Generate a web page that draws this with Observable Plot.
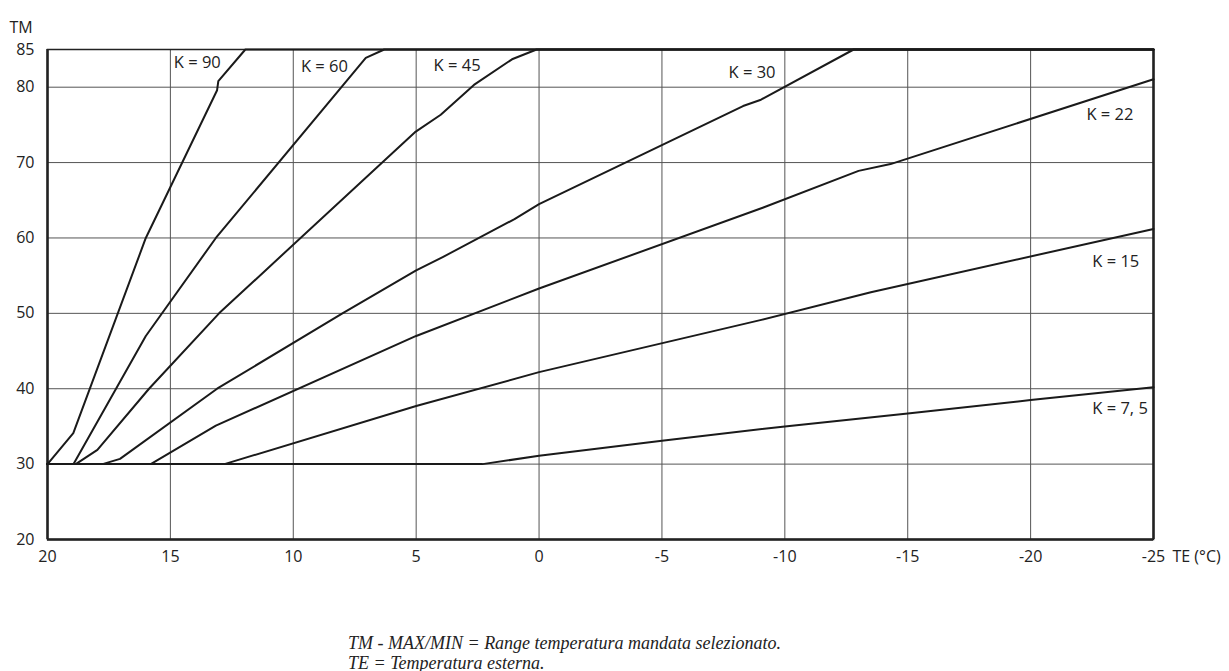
<!DOCTYPE html>
<html>
<head>
<meta charset="utf-8">
<script src="https://cdn.jsdelivr.net/npm/d3@7"></script>
<script src="https://cdn.jsdelivr.net/npm/@observablehq/plot@0.6"></script>
<style>
  body { margin: 0; background: #fff; }
  #caption { font-family: "Liberation Serif", serif; font-style: italic; font-size: 18px; line-height: 20px; color: #222; margin-left: 348px; padding-top: 33px; }
</style>
</head>
<body>
<div id="chart"></div>
<div id="caption">
  <div>TM - MAX/MIN = Range temperatura mandata selezionato.</div>
  <div>TE = Temperatura esterna.</div>
</div>
<script>
// Tick values
const xTicks = [20, 15, 10, 5, 0, -5, -10, -15, -20, -25];
const yTicks = [20, 30, 40, 50, 60, 70, 80, 85];

// Curves: TE (outside temp) and TM (flow temp) vertices
const k90TE = [20, 18.95, 16, 13.1, 13.05, 11.95, -25];
const k90TM = [30, 34.1, 60, 79.6, 80.8, 85, 85];

const k60TE = [20, 18.94, 16.0, 13.15, 7.05, 6.3, -25];
const k60TM = [30, 30, 47.0, 60, 83.9, 85, 85];

const k45TE = [20, 18.85, 17.97, 15.87, 13.02, 5.06, 4.0, 2.65, 1.1, 0.1, -25];
const k45TM = [30, 30, 31.9, 40, 50, 74.0, 76.35, 80.3, 83.7, 85, 85];

const k30TE = [20, 17.76, 17.05, 13.1, 8, 5, 3.9, 1, 0, -8.3, -9, -12.8, -25];
const k30TM = [30, 30, 30.7, 40, 50, 55.7, 57.5, 62.5, 64.5, 77.5, 78.3, 85, 85];

const k22TE = [20, 15.8, 13.15, 5, 0, -9.1, -13, -14.3, -25];
const k22TM = [30, 30, 35.1, 47, 53.3, 64, 68.9, 69.8, 81.05];

const k15TE = [20, 12.8, 5, 0, -9, -13.5, -25];
const k15TM = [30, 30, 37.7, 42.2, 49.1, 52.8, 61.2];

const k75TE = [20, 2.3, 0, -5, -10, -15, -20, -25];
const k75TM = [30, 30, 31.1, 33.1, 35.0, 36.7, 38.5, 40.2];

// Curve labels and their anchor positions (data units)
const labelText = ["K = 90", "K = 60", "K = 45", "K = 30", "K = 22", "K = 15", "K = 7, 5"];
const labelTE = [14.86, 9.69, 4.29, -7.71, -22.27, -22.51, -22.51];
const labelTM = [83.2, 82.65, 82.8, 81.9, 76.3, 56.8, 37.3];

const curves = [
  ["K90", k90TE, k90TM], ["K60", k60TE, k60TM], ["K45", k45TE, k45TM],
  ["K30", k30TE, k30TM], ["K22", k22TE, k22TM], ["K15", k15TE, k15TM], ["K7.5", k75TE, k75TM]
];
const lineData = curves.flatMap(([k, te, tm]) => te.map((v, i) => ({k, te: v, tm: tm[i]})));
const labels = labelText.map((t, i) => ({t, te: labelTE[i], tm: labelTM[i]}));

const chart = Plot.plot({
  width: 1229,
  height: 600,
  marginLeft: 47,
  marginRight: 76,
  marginTop: 49,
  marginBottom: 61,
  style: {fontFamily: "'Open Sans', sans-serif", fontSize: "16px", color: "#222", background: "#fff"},
  x: {domain: [20, -25], label: null},
  y: {domain: [20, 85], label: null},
  marks: [
    Plot.ruleX(xTicks, {stroke: "#555", strokeWidth: 1}),
    Plot.ruleY(yTicks, {stroke: "#555", strokeWidth: 1}),
    Plot.frame({stroke: "#222", strokeWidth: 1.5}),
    Plot.ruleX([20, -25], {stroke: "#222", strokeWidth: 2.5}),
    Plot.ruleY([20], {stroke: "#222", strokeWidth: 2.5}),
    Plot.axisX(xTicks, {tickSize: 0, tickPadding: 11, label: null, fontSize: 16, tickFormat: d => String(d)}),
    Plot.axisY(yTicks, {tickSize: 0, tickPadding: 13, label: null, fontSize: 16, tickFormat: d => String(d)}),
    Plot.line(lineData, {x: "te", y: "tm", z: "k", stroke: "#1a1a1a", strokeWidth: 2, strokeLinejoin: "round"}),
    Plot.text(labels, {x: "te", y: "tm", text: "t", textAnchor: "start", fontSize: 16.5, fill: "#222"}),
    Plot.text(["TM"], {frameAnchor: "top-left", dx: -38, dy: -28, textAnchor: "start", fontSize: 16, fill: "#222"}),
    Plot.text(["TE (°C)"], {frameAnchor: "bottom-right", dx: 19, dy: 22, textAnchor: "start", fontSize: 16, fill: "#222"})
  ]
});
document.getElementById("chart").appendChild(chart);
</script>
</body>
</html>
